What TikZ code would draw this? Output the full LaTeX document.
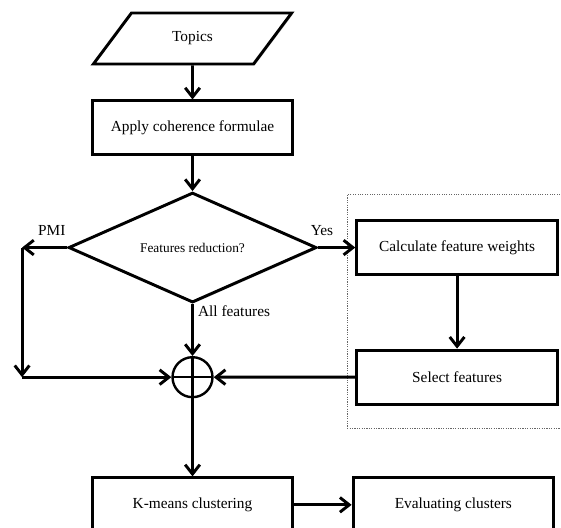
\documentclass[tikz,border=0pt]{standalone}
\usepackage{fontspec}
\setmainfont{Liberation Serif}
\usepackage{tikz}
\usetikzlibrary{arrows.meta,positioning,shapes.geometric,fit,backgrounds,calc,shadows}

\begin{document}
\begin{tikzpicture}[
		font=\fontsize{11.5}{13}\selectfont,
		every node/.style={align=center},
		lw/.style={line width=2.2pt},
		proc/.style={rectangle, draw, lw, fill=white,
				minimum width=150.5pt, minimum height=40.5pt, inner sep=2pt,
				drop shadow={shadow xshift=1pt, shadow yshift=-1pt, opacity=0.3}},
		inbox/.style={trapezium, trapezium left angle=52.6, trapezium right angle=127.4,
				trapezium stretches=true, draw, lw, fill=white,
				minimum width=149.25pt, minimum height=38.25pt, inner sep=2pt,
				drop shadow={shadow xshift=1pt, shadow yshift=-1pt, opacity=0.3}},
		decide/.style={diamond, aspect=2.25, draw, lw, fill=white,
				minimum width=186pt, minimum height=82.5pt, inner sep=0pt,
				font=\fontsize{10}{12}\selectfont,
				drop shadow={shadow xshift=1pt, shadow yshift=-1pt, opacity=0.3}},
		sumnode/.style={circle, draw, line width=1.8pt, minimum size=30pt, inner sep=0pt,
				path picture={
						\draw[line width=1.8pt] (path picture bounding box.north) -- (path picture bounding box.south);
						\draw[line width=1.8pt] (path picture bounding box.west) -- (path picture bounding box.east);
					}},
		arr/.style={-{Straight Barb[length=7pt, width=11pt, line width=2.2pt]}, lw},
		groupbox/.style={rectangle, draw, densely dotted, line width=0.8pt, gray!80!black,
				inner xsep=6pt, inner ysep=18pt},
		lbl/.style={inner sep=1pt},
		]

	\useasboundingbox (-144.4pt,28.9pt) rectangle (276.4pt,-367.1pt);

	% Main column
	\node[inbox] (topics) at (0,0) {Topics};
	\node[proc, below=25.5pt of topics]  (apply)  {Apply coherence formulae};
	\node[decide, below=26pt of apply]   (reduce) {Features reduction?};
	\node[sumnode, below=39pt of reduce] (sum)    {};
	\node[proc, below=58.5pt of sum]     (kmeans) {K-means clustering};
	\node[proc, right=43pt of kmeans]    (eval)   {Evaluating clusters};

	% Feature selection branch
	\node[proc, right=28pt of reduce]    (weights) {Calculate feature weights};
	\node[proc, below=54.5pt of weights] (select)  {Select features};

	\begin{scope}[on background layer]
		\node[groupbox, fit=(weights)(select), yshift=0.5pt] (featbox) {};
	\end{scope}

	% Branch labels
	\node[lbl, above left=8pt and 0pt of reduce.west] (pmi) {PMI};
	\node[lbl, above=8pt of reduce.east, xshift=3pt]  (yes) {Yes};
	\node[lbl, below right=0pt and 3pt of reduce.south] (allf) {All features};

	% PMI path
	\coordinate[left=33.75pt of reduce.west] (pmiend);
	\coordinate (pmilow) at (pmiend |- sum);

	% Connections
	\draw[arr] (topics)  -- (apply);
	\draw[arr] (apply)   -- (reduce);
	\draw[arr] (reduce.south) -- (sum.north);
	\draw[arr] (reduce.west)  -- (pmiend);
	\draw[arr] (pmiend)  -- (pmilow);
	\draw[arr] (pmilow)  -- (sum.west);
	\draw[arr] (reduce.east)  -- (weights.west);
	\draw[arr] (weights) -- (select);
	\draw[arr] (select)  -- (sum.east);
	\draw[arr] (sum)     -- (kmeans);
	\draw[arr] (kmeans)  -- (eval);

\end{tikzpicture}
\end{document}
